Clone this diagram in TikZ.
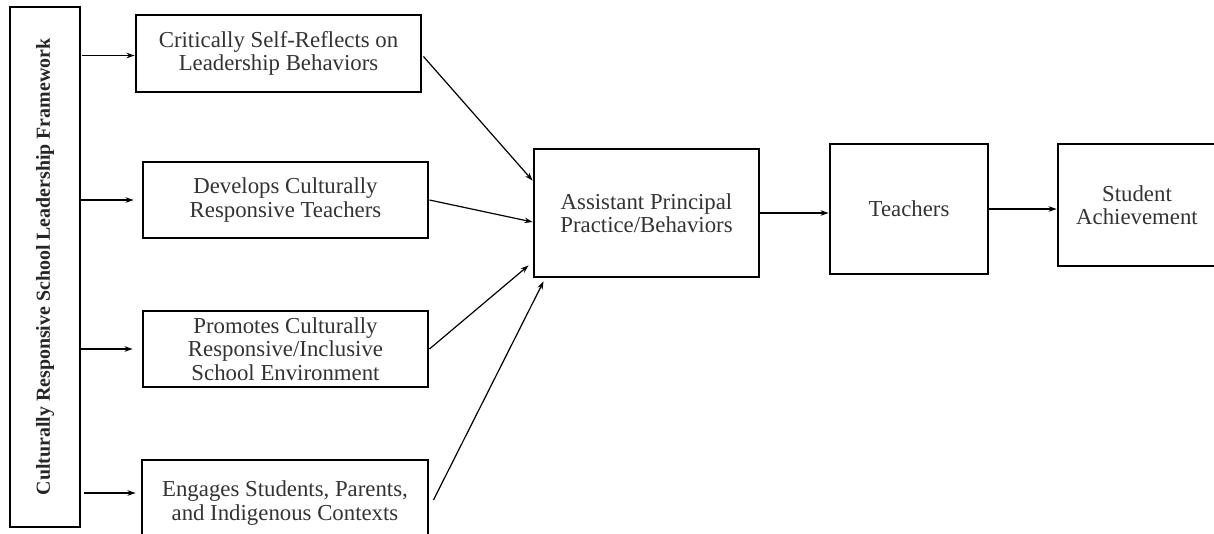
\documentclass[tikz,border=0pt]{standalone}
\usepackage{fontspec}
\setmainfont{Liberation Serif}
\usetikzlibrary{arrows.meta,calc}
\begin{document}
\begin{tikzpicture}[x=1pt,y=-1pt,
  box/.style={draw=black,line width=2.9pt,rectangle,inner sep=0pt,align=center,
    text=black!80,font=\fontsize{22.8}{23.5}\selectfont},
  conn/.style={line width=1.2pt,-{Stealth[length=8pt,width=5.5pt]}}]
\useasboundingbox (0,0) rectangle (1214,533);
\clip (0,0) rectangle (1214,533);
\fill[white] (0,0) rectangle (1214,533);
\node[box,minimum width=70pt,minimum height=520pt] (L) at (45,267) {};
\node[rotate=90,font=\bfseries\fontsize{19.9}{21}\selectfont,text=black!85] (Lt) at (L.center) {Culturally Responsive School Leadership Framework};
\node[box,minimum width=285pt,minimum height=77pt] (B1) at (278.5,53.5) {Critically Self-Reflects on\\Leadership Behaviors};
\node[box,minimum width=285pt,minimum height=76pt] (B2) at (285.5,200) {Develops Culturally\\Responsive Teachers};
\node[box,minimum width=285pt,minimum height=76pt] (B3) at (285.5,349) {Promotes Culturally\\Responsive/Inclusive\\School Environment};
\node[box,minimum width=286pt,minimum height=86pt] (B4) at (285,503) {Engages Students, Parents,\\and Indigenous Contexts};
\node[box,minimum width=225pt,minimum height=128pt] (AP) at (646.5,213) {Assistant Principal\\Practice/Behaviors};
\node[box,minimum width=158pt,minimum height=130pt] (T) at (909,209) {Teachers};
\node[box,minimum width=158pt,minimum height=122pt] (SA) at (1137,205) {Student\\Achievement};
\draw[conn] ($(L.east|-B1.west)+(1,2)$) -- ($(B1.west)+(0,2)$);
\draw[conn,shorten >=8pt] (L.east|-B2.west) -- (B2.west);
\draw[conn,shorten >=9pt] (L.east|-B3.west) -- (B3.west);
\draw[conn,shorten <=3pt,shorten >=5pt] ($(L.east|-B4.west)+(0,-10)$) -- ($(B4.west)+(0,-10)$);
\draw[conn] ($(B1.east)+(1,3)$) -- ($(AP.north west)+(0,33)$);
\draw[conn] (B2.east) -- ($(AP.west)+(0,9)$);
\draw[conn] (B3.east) -- ($(AP.south west)+(-4,-13)$);
\draw[conn] ($(B4.east)+(4,-3)$) -- ($(AP.south west)+(11,3)$);
\draw[conn] (AP.east) -- (AP.east-|T.west);
\draw[conn] (T.east) -- (T.east-|SA.west);
\end{tikzpicture}
\end{document}
